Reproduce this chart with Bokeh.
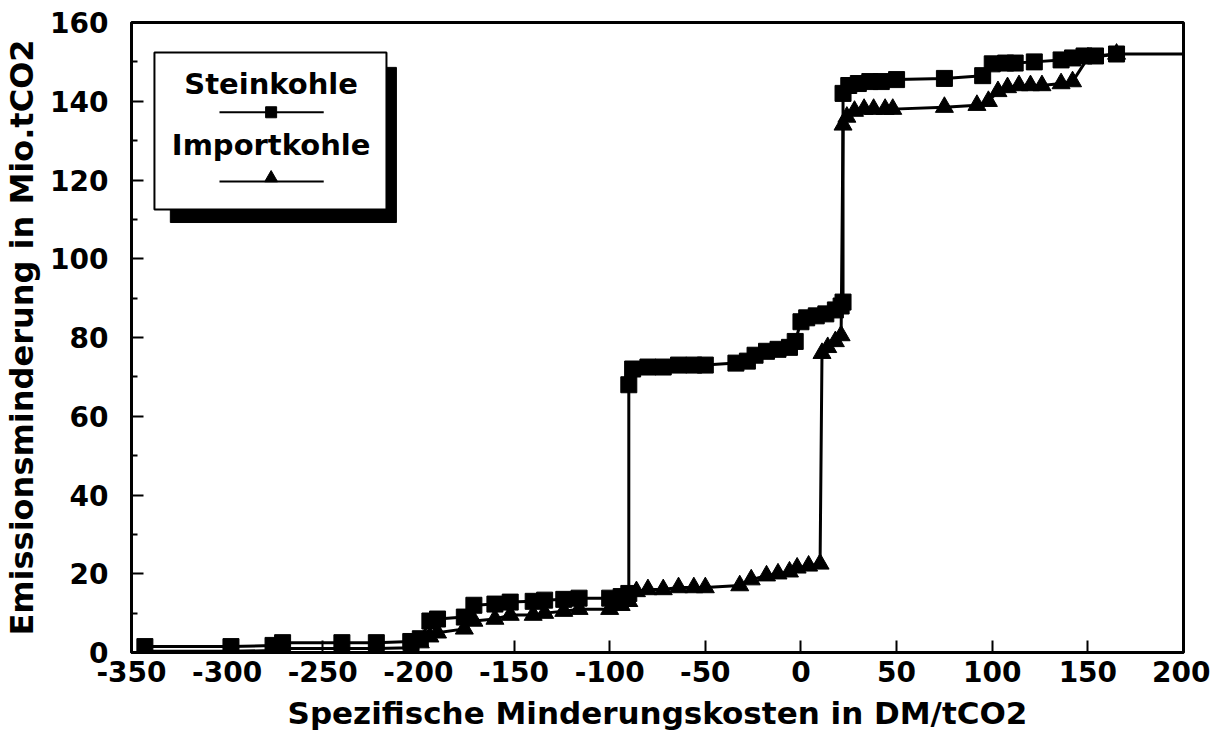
from bokeh.plotting import figure
from bokeh.models import Range1d, FixedTicker
from bokeh.embed import file_html
from bokeh.resources import INLINE
from bokeh.core.properties import value

# ---- data ----
stein_x = [-343, -298, -276, -271, -240, -222, -204, -199, -194, -190, -176, -171,
           -160, -152, -140, -134, -124, -116, -100, -94, -90, -90, -88, -80, -72,
           -64, -56, -50, -34, -28, -24, -18, -12, -6, -3, 0, 3, 8, 13, 18, 21,
           22, 22, 25, 30, 36, 42, 50, 75, 95, 100, 107, 112, 122, 136, 142, 148,
           154, 165, 200]
stein_y = [1.5, 1.5, 1.8, 2.5, 2.5, 2.5, 2.8, 3.5, 8, 8.5, 9, 12,
           12.3, 12.8, 13, 13.3, 13.5, 13.8, 13.8, 14.2, 15, 68, 72, 72.5, 72.5,
           73, 73, 73, 73.5, 74, 75.5, 76.5, 77, 77.5, 79, 84, 85, 85.5, 86, 87, 88,
           89, 142, 144, 144.5, 145, 145, 145.5, 145.8, 146.5, 149.5, 149.7, 149.7,
           150, 150.5, 151, 151.5, 151.5, 152, 152]

import_x = [-343, -298, -276, -271, -240, -222, -204, -199, -194, -190, -176, -171,
            -160, -152, -140, -134, -124, -116, -100, -94, -90, -86, -80, -72, -64,
            -56, -50, -32, -26, -18, -12, -6, -2, 4, 10, 11, 14, 18, 21, 22, 24, 28,
            33, 38, 44, 48, 75, 92, 98, 103, 108, 114, 120, 126, 136, 142, 150, 165]
import_y = [0.3, 0.3, 0.5, 1, 1, 1, 1.2, 2.5, 4, 5, 6, 8,
            8.5, 9.5, 9.5, 10, 10.5, 11, 11, 12, 13, 15.5, 16, 16, 16.5,
            16.5, 16.5, 17, 18.5, 19.5, 20, 20.5, 21.5, 22, 22.5, 76, 77.5, 79, 80.5,
            134, 136, 137.5, 138, 138, 138, 138, 138.5, 139, 140, 142.5, 143.5, 144,
            144, 144, 144.5, 145, 151, 152]

x_ticks = list(range(-350, 201, 50))
y_ticks = list(range(0, 161, 20))
y_minor = list(range(10, 160, 20))

series_names = ["Steinkohle", "Importkohle"]
x_title = "Spezifische Minderungskosten in DM/tCO2"
y_title = "Emissionsminderung in Mio.tCO2"

FONT = "DejaVu Sans"

p = figure(width=1210, height=737,
           x_range=Range1d(-350, 200), y_range=Range1d(0, 160),
           output_backend="svg", toolbar_location=None,
           min_border_left=125, min_border_right=27,
           min_border_top=22, min_border_bottom=85)
p.background_fill_color = "white"
p.border_fill_color = "white"
p.xgrid.visible = False
p.ygrid.visible = False
p.outline_line_color = "black"
p.outline_line_width = 3
p.outline_line_alpha = 1

for ax in (p.xaxis[0], p.yaxis[0]):
    ax.axis_line_width = 3
    ax.axis_line_color = "black"
    ax.major_tick_in = 12
    ax.major_tick_out = 0
    ax.major_tick_line_width = 2
    ax.major_tick_line_color = "black"
    ax.major_label_text_font = FONT
    ax.major_label_text_font_style = "bold"
    ax.major_label_text_font_size = "28px"
    ax.major_label_text_color = "black"
    ax.axis_label_text_font = FONT
    ax.axis_label_text_font_style = "bold"
    ax.axis_label_text_color = "black"

p.xaxis[0].ticker = FixedTicker(ticks=x_ticks)
p.xaxis[0].major_label_overrides = {t: str(t) for t in x_ticks}
p.xaxis[0].minor_tick_line_color = None
p.xaxis[0].major_label_standoff = 8
p.xaxis[0].axis_label = x_title
p.xaxis[0].axis_label_text_font_size = "31px"
p.xaxis[0].axis_label_standoff = 10

p.yaxis[0].ticker = FixedTicker(ticks=y_ticks, minor_ticks=y_minor)
p.yaxis[0].major_label_overrides = {t: str(t) for t in y_ticks}
p.yaxis[0].minor_tick_in = 6
p.yaxis[0].minor_tick_out = 0
p.yaxis[0].minor_tick_line_width = 2
p.yaxis[0].minor_tick_line_color = "black"
p.yaxis[0].major_label_standoff = 23
p.yaxis[0].axis_label = y_title
p.yaxis[0].axis_label_text_font_size = "32px"
p.yaxis[0].axis_label_standoff = 6

# ---- series ----
p.line(stein_x, stein_y, line_width=3, color="black")
p.scatter(stein_x[:-1], stein_y[:-1], marker="square", size=16, color="black")
p.line(import_x, import_y, line_width=3, color="black")
p.scatter(import_x, import_y, marker="triangle", size=18, color="black")

# ---- legend box with drop shadow ----
p.quad(left=[-329.7], right=[-211.5], top=[148.6], bottom=[109.2],
       fill_color="black", line_color="black")
p.quad(left=[-338], right=[-216.7], top=[152.4], bottom=[112.5],
       fill_color="white", line_color="black", line_width=2)
p.text(x=[-277, -277], y=[144.3, 129.0], text=series_names,
       text_align="center", text_baseline="middle",
       text_font=value(FONT), text_font_style="bold", text_font_size="29px",
       text_color="black")
p.line([-304, -249.5], [137.2, 137.2], line_width=2, color="black")
p.scatter([-277], [137.2], marker="square", size=11, color="black")
p.line([-304, -249.5], [119.6, 119.6], line_width=2, color="black")
p.scatter([-277], [120.5], marker="triangle", size=13, color="black")

open("out.html", "w").write(file_html(p, INLINE))
